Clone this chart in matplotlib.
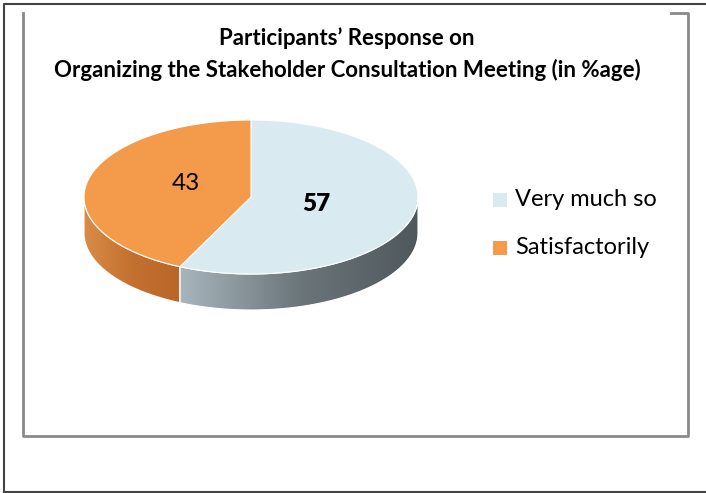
import numpy as np
import matplotlib.pyplot as plt
from matplotlib.patches import Polygon, Rectangle
from matplotlib.lines import Line2D
from matplotlib.colors import LinearSegmentedColormap

# data
categories = ['Very much so', 'Satisfactorily']
values = [57, 43]
top_colors = ['#DAEAF1', '#F39A4B']
side_colors = [['#A8B5BC', '#6B767B', '#4E585C'], ['#D98C47', '#C4702F', '#B8662A']]
title_lines = ['Participants\u2019 Response on',
               'Organizing the Stakeholder Consultation Meeting (in %age)']

plt.rcParams['font.family'] = ['Lato', 'DejaVu Sans']

W, H = 706, 493
fig = plt.figure(figsize=(W / 100, H / 100), dpi=100)
ax = fig.add_axes([0, 0, 1, 1])
ax.set_xlim(0, W)
ax.set_ylim(H, 0)
ax.axis('off')

# page border and chart box
ax.add_line(Line2D([3.5, 3.5, W], [H - 1.5, 3.5, 3.5], color='#444444', lw=1.5))
ax.add_line(Line2D([3.5, W], [H - 1.5, H - 1.5], color='#444444', lw=1.5))
ax.add_line(Line2D([22.5, 22.5, 688, 688, 671], [13, 436, 436, 13, 13],
                   color='#8a8a8a', lw=2))

# title
ax.text(347, 38, title_lines[0], ha='center', va='center', fontsize=16, fontweight='bold')
ax.text(347, 70, title_lines[1], ha='center', va='center', fontsize=16, fontweight='bold')

# pie geometry (pixels)
cx, cy, rx, ry, depth = 251, 197, 167, 77, 36


def ell(th, dy=0):
    return cx + rx * np.cos(th), cy - ry * np.sin(th) + dy


total = float(sum(values))
start = 90.0
angles = []
for v in values:
    end = start - v / total * 360.0
    angles.append((end, start))
    start = end

# sides (front half only)
for (a0, a1), cols in zip(angles, side_colors):
    for shift in (0, 360, -360):
        s_lo, s_hi = max(a0 + shift, -180), min(a1 + shift, 0)
        if s_hi > s_lo:
            th = np.radians(np.linspace(s_lo, s_hi, 100))
            xt, yt = ell(th)
            xb, yb = ell(th[::-1], depth)
            pts = np.column_stack([np.r_[xt, xb], np.r_[yt, yb]])
            poly = Polygon(pts, closed=True, facecolor='none', edgecolor='white', lw=0.8, zorder=3)
            ax.add_patch(poly)
            cmap = LinearSegmentedColormap.from_list('s', cols)
            grad = np.linspace(0, 1, 256).reshape(1, -1)
            im = ax.imshow(grad, cmap=cmap, aspect='auto',
                           extent=[pts[:, 0].min(), pts[:, 0].max(), pts[:, 1].max(), pts[:, 1].min()],
                           zorder=2, interpolation='bilinear')
            im.set_clip_path(poly)

ax.set_xlim(0, W)
ax.set_ylim(H, 0)

# top faces
for (a0, a1), col in zip(angles, top_colors):
    th = np.radians(np.linspace(a0, a1, 200))
    xt, yt = ell(th)
    pts = np.column_stack([np.r_[cx, xt], np.r_[cy, yt]])
    ax.add_patch(Polygon(pts, closed=True, facecolor=col, edgecolor='white', lw=0.8, zorder=4))

# data labels
label_weight = ['heavy', 'normal']
for (a0, a1), v, wt in zip(angles, values, label_weight):
    mid = np.radians((a0 + a1) / 2)
    x, y = ell(mid)
    lx = cx + (x - cx) * 0.4
    ly = cy + (y - cy) * 0.4 - (7 if v < 50 else 0)
    ax.text(lx, ly, str(v), ha='center', va='center', fontsize=17.5, fontweight=wt, zorder=5)

# legend
for i, (cat, col) in enumerate(zip(categories, top_colors)):
    y = 200 + i * 48
    ax.add_patch(Rectangle((493, y - 7), 14, 14, facecolor=col, edgecolor='none'))
    ax.text(515, y, cat, ha='left', va='center', fontsize=17)

fig.savefig('out.png', dpi=100)
